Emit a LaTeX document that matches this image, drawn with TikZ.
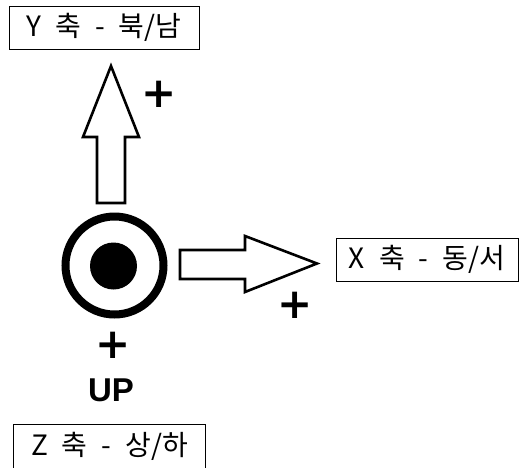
\documentclass[tikz,border=0pt]{standalone}
\usepackage{fontspec}
\setmainfont{Noto Sans CJK KR}
\newfontfamily\plusfont{DejaVu Sans}
\newfontfamily\upfont{Liberation Sans}
\newcommand{\gapsp}{\hspace{14pt}}
\begin{document}
\begin{tikzpicture}[x=1pt,y=-1pt,
  axistext/.style={minimum width=#1, minimum height=43pt, inner sep=0pt,
    font=\fontsize{28}{30}\selectfont},
  axislabel/.style={axistext=#1, draw, line width=0.9pt},
  blockarrow/.style={draw, line width=2.6pt, line join=miter, fill=white},
  plussign/.style={inner sep=0pt, font=\plusfont\bfseries\fontsize{42}{42}\selectfont},
]
\useasboundingbox (0,0) rectangle (520,467);
% labels
\node[axislabel=190pt] (ylab) at (104,27.5) {Y\gapsp 축\gapsp -\gapsp 북/남};
\node[axislabel=182pt] (xlab) at (427,259.5) {X\gapsp 축\gapsp -\gapsp 동/서};
\node[axistext=191pt] (zlab) at (109.5,446) {Z\gapsp 축\gapsp -\gapsp 상/하};
\draw[line width=0.9pt] ([yshift=-8pt]zlab.south west) |- (zlab.north east) -- ([yshift=-8pt]zlab.south east);
% up arrow
\draw[blockarrow] (97,203) -- (97,137) -- (83,137) -- (111,66) -- (139,137) -- (125,137) -- (125,203) -- cycle;
% right arrow
\draw[blockarrow] (180,250) -- (245,250) -- (245,236) -- (317,263.5) -- (245,292) -- (245,279) -- (180,279) -- cycle;
% z axis symbol
\coordinate (c) at (114.5,265.5);
\draw[line width=8pt] (c) circle[radius=49pt];
\fill (113.5,266) circle[radius=23.5pt];
% plus signs
\node[plussign] (py) at (159,94) {+};
\node[plussign] (px) at (295,305) {+};
\node[plussign] (pz) at (113,345) {+};
\node[inner sep=0pt, font=\upfont\bfseries\fontsize{33}{33}\selectfont] (up) at (111,390) {UP};
\end{tikzpicture}
\end{document}
